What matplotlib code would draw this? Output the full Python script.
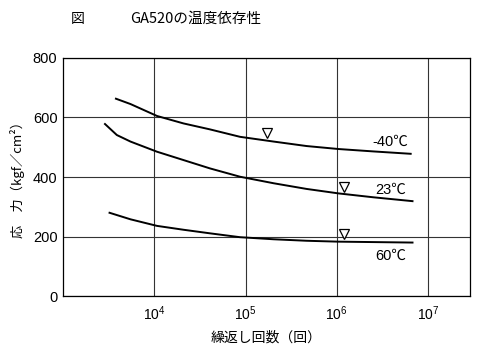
import matplotlib
matplotlib.use("Agg")
import matplotlib.pyplot as plt
import numpy as np

plt.rcParams['font.family'] = ['Liberation Sans', 'Noto Sans CJK JP', 'DejaVu Sans']
plt.rcParams['mathtext.fontset'] = 'custom'
plt.rcParams['mathtext.rm'] = 'Liberation Sans'

# data: log10(cycles) and stress (kgf/cm2)
m40_logn = [3.58, 3.74, 4.03, 4.32, 4.61, 4.94, 5.31, 5.67, 6.02, 6.40, 6.81]
m40_s = [663, 645, 605, 580, 560, 535, 519, 504, 494, 486, 478]
t23_logn = [3.46, 3.59, 3.74, 4.03, 4.32, 4.61, 4.94, 5.31, 5.67, 6.02, 6.40, 6.83]
t23_s = [578, 541, 519, 485, 457, 429, 401, 379, 360, 345, 332, 319]
t60_logn = [3.51, 3.74, 4.03, 4.32, 4.61, 4.94, 5.31, 5.67, 6.02, 6.83]
t60_s = [280, 258, 236, 223, 211, 198, 191, 186, 183, 180]

marker_logn = [5.23, 6.08, 6.08]
marker_s = [549, 365, 208]

labels = ['-40℃', '23℃', '60℃']
label_logn = [6.59, 6.59, 6.59]
label_s = [518, 356, 134]

xticks = [1e4, 1e5, 1e6, 1e7]
xticklabels = [r'$\mathrm{10^4}$', r'$\mathrm{10^5}$', r'$\mathrm{10^6}$', r'$\mathrm{10^7}$']
yticks = [0, 200, 400, 600, 800]

fig = plt.figure(figsize=(5.0, 3.53), dpi=100)
ax = fig.add_axes([0.126, 0.161, 0.814, 0.675])

for ln, s in [(m40_logn, m40_s), (t23_logn, t23_s), (t60_logn, t60_s)]:
    ax.plot(10 ** np.array(ln), s, color='black', lw=1.4, solid_joinstyle='round')

ax.plot(10 ** np.array(marker_logn), marker_s, linestyle='none', marker='v',
        markersize=7, markerfacecolor='white', markeredgecolor='black', markeredgewidth=0.9)

for t, ln, s in zip(labels, label_logn, label_s):
    ax.text(10 ** ln, s, t, ha='center', va='center', fontsize=10.5)

ax.set_xscale('log')
ax.set_xlim(1e3, 10 ** 7.46)
ax.set_ylim(0, 800)
ax.set_xticks(xticks)
ax.set_xticklabels(xticklabels, fontsize=10)
ax.minorticks_off()
ax.set_yticks(yticks)
ax.set_yticklabels([str(v) for v in yticks], fontsize=10.5)
ax.tick_params(length=0, pad=4)
ax.tick_params(axis='x', pad=6)
ax.grid(True, color='#333333', lw=0.8)
for sp in ax.spines.values():
    sp.set_linewidth(0.9)

ax.set_xlabel('繰返し回数（回）', fontsize=10, family=['Noto Sans CJK JP'])
ax.xaxis.set_label_coords(0.5, -34 / 238, transform=ax.transAxes)
ax.set_ylabel('応　力（kgf／cm²）', fontsize=9.5, family=['Noto Sans CJK JP', 'DejaVu Sans'])
ax.yaxis.set_label_coords(-38 / 407, 0.5, transform=ax.transAxes)

fig.text(78 / 500, 1 - 19 / 353, '図', fontsize=10, ha='center', va='center', family=['Noto Sans CJK JP'])
fig.text(130 / 500, 1 - 19 / 353, 'GA520の温度依存性', fontsize=10.5, ha='left', va='center',
         family=['Noto Sans CJK JP'])

fig.savefig('out.png', dpi=100)
